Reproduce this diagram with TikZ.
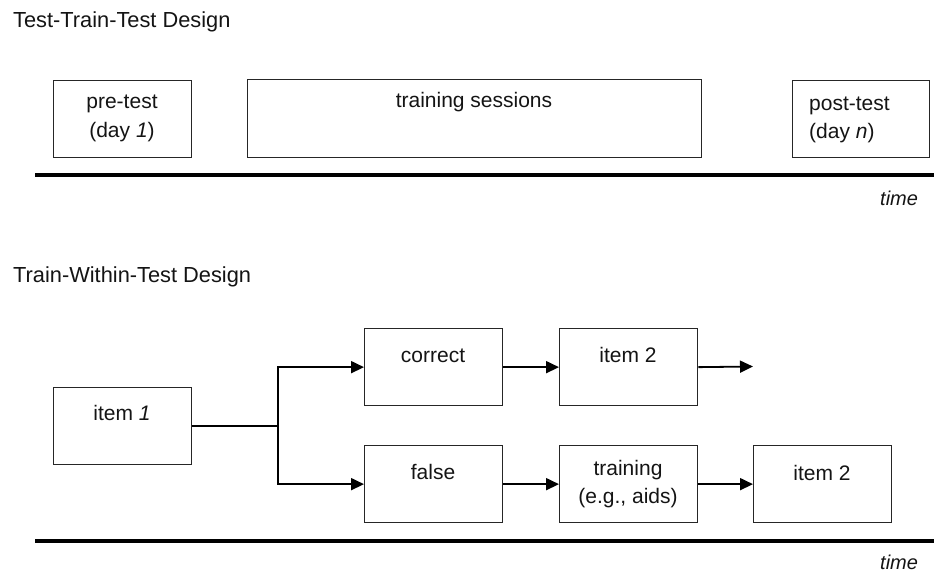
\documentclass[tikz,border=0pt]{standalone}
\usepackage{fontspec}
\setmainfont{Liberation Sans}
\usetikzlibrary{arrows.meta}
\begin{document}
\begin{tikzpicture}[x=1pt,y=-1pt,
 box/.style={draw=black!85, line width=1.3pt, minimum width=138pt, minimum height=77pt, inner sep=0pt, anchor=north west},
 txt/.style={font=\fontsize{21}{25}\selectfont, text=black!92, anchor=base, inner sep=0pt},
 ltxt/.style={txt, anchor=base west},
 conn/.style={line width=1.8pt, draw=black},
 arr/.style={conn, -{Triangle[length=13pt,width=12pt]}},
 timeline/.style={line width=3.5pt, draw=black}]
\useasboundingbox (0,0) rectangle (934,572);
% titles
\node[ltxt, font=\fontsize{21.8}{25}\selectfont] (title1) at (13,28) {Test-Train-Test Design};
\node[ltxt, font=\fontsize{21.8}{25}\selectfont] (title2) at (13,282) {Train-Within-Test Design};
% top design
\node[box] (pre) at (53,80) {};
\node[box, minimum width=454pt, minimum height=78pt] (train) at (247,79) {};
\node[box, minimum width=137pt] (post) at (792,80) {};
\node[txt] (pre1) at (122,109) {pre-test};
\node[txt] (pre2) at (122,138) {(day \textit{1})};
\node[txt] (trs) at (474,108) {training sessions};
\node[ltxt] (post1) at (809,111) {post-test};
\node[ltxt] (post2) at (809,139) {(day \textit{n})};
\coordinate (t1a) at (35,175);
\coordinate (t1b) at (934,175);
\draw[timeline] (t1a) -- (t1b);
\node[ltxt, font=\fontsize{20}{24}\selectfont\itshape] (time1) at (880,206) {time};
% bottom design
\node[box] (item1) at (53,387) {};
\node[box] (correct) at (364,328) {};
\node[box] (item2a) at (559,328) {};
\node[box] (false) at (364,445) {};
\node[box] (training) at (559,445) {};
\node[box] (item2b) at (753,445) {};
\node[txt] (item1t) at (122,420) {item \textit{1}};
\node[txt] (correctt) at (433,362) {correct};
\node[txt] (item2at) at (628,362) {item 2};
\node[txt] (falset) at (433,479) {false};
\node[txt] (training1) at (628,475) {training};
\node[txt] (training2) at (628,503) {(e.g., aids)};
\node[txt] (item2bt) at (822,480) {item 2};
\draw[conn] (item1.east) -- ++(86,0) coordinate (split);
\draw[arr] (split) |- (correct.west);
\draw[arr] (split) |- (false.west);
\draw[arr] (correct.east) -- (item2a.west);
\coordinate (end1) at (753,366.5);
\draw[arr] (item2a.east) -- (end1);
\draw[arr] (false.east) -- (training.west);
\draw[arr] (training.east) -- (item2b.west);
\coordinate (t2a) at (35,541);
\coordinate (t2b) at (934,541);
\draw[timeline] (t2a) -- (t2b);
\node[ltxt, font=\fontsize{20}{24}\selectfont\itshape] (time2) at (880,569) {time};
\end{tikzpicture}
\end{document}
